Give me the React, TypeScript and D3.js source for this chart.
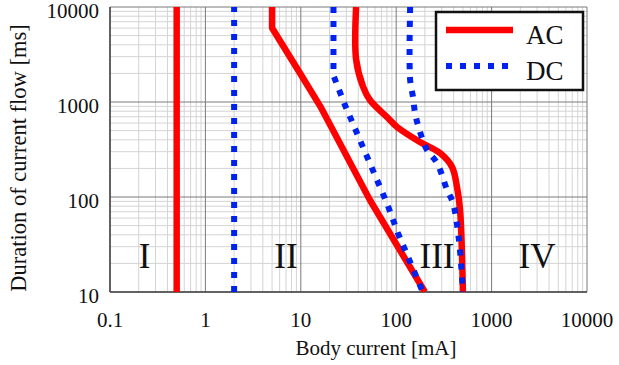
import React from "react";
import * as d3 from "d3";

const W = 619;
const H = 365;

const xTicks = [0.1, 1, 10, 100, 1000, 10000];
const xTickLabels = ["0.1", "1", "10", "100", "1000", "10000"];
const yTicks = [10, 100, 1000, 10000];
const yTickLabels = ["10", "100", "1000", "10000"];

// [current mA, duration ms]
const acPerception: [number, number][] = [[0.5, 10], [0.5, 10000]];
const dcPerception: [number, number][] = [[2, 10], [2, 10000]];
const acLetGo: [number, number][] = [[5, 10000], [5, 6000], [10, 1950], [16, 900], [53, 93], [200, 10]];
const dcLetGo: [number, number][] = [[22, 10000], [22, 1900], [29, 930], [80, 86], [104, 42], [190, 10]];
const acC1: [number, number][] = [
  [38, 10000], [38, 2800], [45, 1440], [53, 1050], [80, 695], [102, 546],
  [177, 380], [288, 290], [385, 207], [434, 127], [467, 73], [500, 10],
];
const dcC1: [number, number][] = [
  [140, 10000], [140, 1700], [150, 1130], [157, 785], [169, 573], [210, 313],
  [268, 228], [341, 119], [394, 86], [455, 35], [500, 10],
];

const zoneLabels = ["I", "II", "III", "IV"];
const zoneX = [0.23, 7.0, 268, 2990];
const zoneY = 18;

const legendLabels = ["AC", "DC"];

export default function App() {
  const left = 110, right = 587, top = 7, bottom = 292;
  const x = d3.scaleLog().domain([0.1, 10000]).range([left, right]);
  const y = d3.scaleLog().domain([10, 10000]).range([bottom, top]);

  const minorX: number[] = [];
  for (let e = -1; e < 4; e++) for (let m = 2; m <= 9; m++) minorX.push(m * Math.pow(10, e));
  const minorY: number[] = [];
  for (let e = 1; e < 4; e++) for (let m = 2; m <= 9; m++) minorY.push(m * Math.pow(10, e));

  const lin = d3.line<[number, number]>().x(d => x(d[0])).y(d => y(d[1]));
  const smooth = d3
    .line<[number, number]>()
    .x(d => x(d[0]))
    .y(d => y(d[1]))
    .curve(d3.curveCatmullRom.alpha(0.5));

  const font = "'Liberation Serif', 'Times New Roman', serif";
  const red = "#ff0000";
  const blue = "#0022ee";
  const acW = 6.5;
  const dcW = 6;
  const dash = "6 8";

  return (
    <svg width={W} height={H} style={{ position: "absolute", left: 0, top: 0, background: "#fff" }} fontFamily={font}>
      <defs>
        <clipPath id="plot">
          <rect x={left} y={top} width={right - left} height={bottom - top} />
        </clipPath>
      </defs>
      <rect x={0} y={0} width={W} height={H} fill="#fff" />
      {/* minor grid */}
      {minorX.map((v, i) => (
        <line key={"mx" + i} x1={x(v)} x2={x(v)} y1={top} y2={bottom} stroke="#d4d4d4" strokeWidth={1} />
      ))}
      {minorY.map((v, i) => (
        <line key={"my" + i} x1={left} x2={right} y1={y(v)} y2={y(v)} stroke="#d4d4d4" strokeWidth={1} />
      ))}
      {/* major grid */}
      {xTicks.map((v, i) => (
        <line key={"Mx" + i} x1={x(v)} x2={x(v)} y1={top} y2={bottom} stroke="#7a7a7a" strokeWidth={1} />
      ))}
      {yTicks.map((v, i) => (
        <line key={"My" + i} x1={left} x2={right} y1={y(v)} y2={y(v)} stroke="#7a7a7a" strokeWidth={1} />
      ))}
      {/* axes */}
      <line x1={left} x2={left} y1={top} y2={bottom} stroke="#444" strokeWidth={1.5} />
      <line x1={left} x2={right} y1={bottom} y2={bottom} stroke="#444" strokeWidth={1.5} />

      <g clipPath="url(#plot)" fill="none">
        <path d={lin(acPerception) || ""} stroke={red} strokeWidth={acW} />
        <path d={lin(acLetGo) || ""} stroke={red} strokeWidth={acW} strokeLinejoin="round" />
        <path d={smooth(acC1) || ""} stroke={red} strokeWidth={acW} />
        <path d={lin(dcPerception) || ""} stroke={blue} strokeWidth={dcW} strokeDasharray={dash} />
        <path d={lin(dcLetGo) || ""} stroke={blue} strokeWidth={dcW} strokeDasharray={dash} />
        <path d={smooth(dcC1) || ""} stroke={blue} strokeWidth={dcW} strokeDasharray={dash} />
      </g>

      {/* zone labels */}
      {zoneLabels.map((t, i) => (
        <text key={"z" + i} x={x(zoneX[i])} y={y(zoneY)} textAnchor="middle" fontSize={35} fill="#111">
          {t}
        </text>
      ))}

      {/* tick labels */}
      {xTicks.map((v, i) => (
        <text key={"xt" + i} x={x(v)} y={327} textAnchor="middle" fontSize={21} fill="#111">
          {xTickLabels[i]}
        </text>
      ))}
      {yTicks.map((v, i) => (
        <text key={"yt" + i} x={99} y={y(v) + 11} textAnchor="end" fontSize={21} fill="#111">
          {yTickLabels[i]}
        </text>
      ))}

      {/* axis titles */}
      <text x={376} y={355} textAnchor="middle" fontSize={21} fill="#111">
        Body current [mA]
      </text>
      <text transform={`translate(26,158) rotate(-90)`} textAnchor="middle" fontSize={22.5} fill="#111">
        Duration of current flow [ms]
      </text>

      {/* legend */}
      <rect x={436} y={12} width={147} height={78} fill="#fff" stroke="#111" strokeWidth={2.5} />
      <line x1={446} x2={513} y1={30} y2={30} stroke={red} strokeWidth={acW} />
      <line x1={446} x2={513} y1={66} y2={66} stroke={blue} strokeWidth={dcW} strokeDasharray={dash} />
      <text x={526} y={44} fontSize={27} fill="#111">{legendLabels[0]}</text>
      <text x={526} y={80} fontSize={27} fill="#111">{legendLabels[1]}</text>
    </svg>
  );
}
